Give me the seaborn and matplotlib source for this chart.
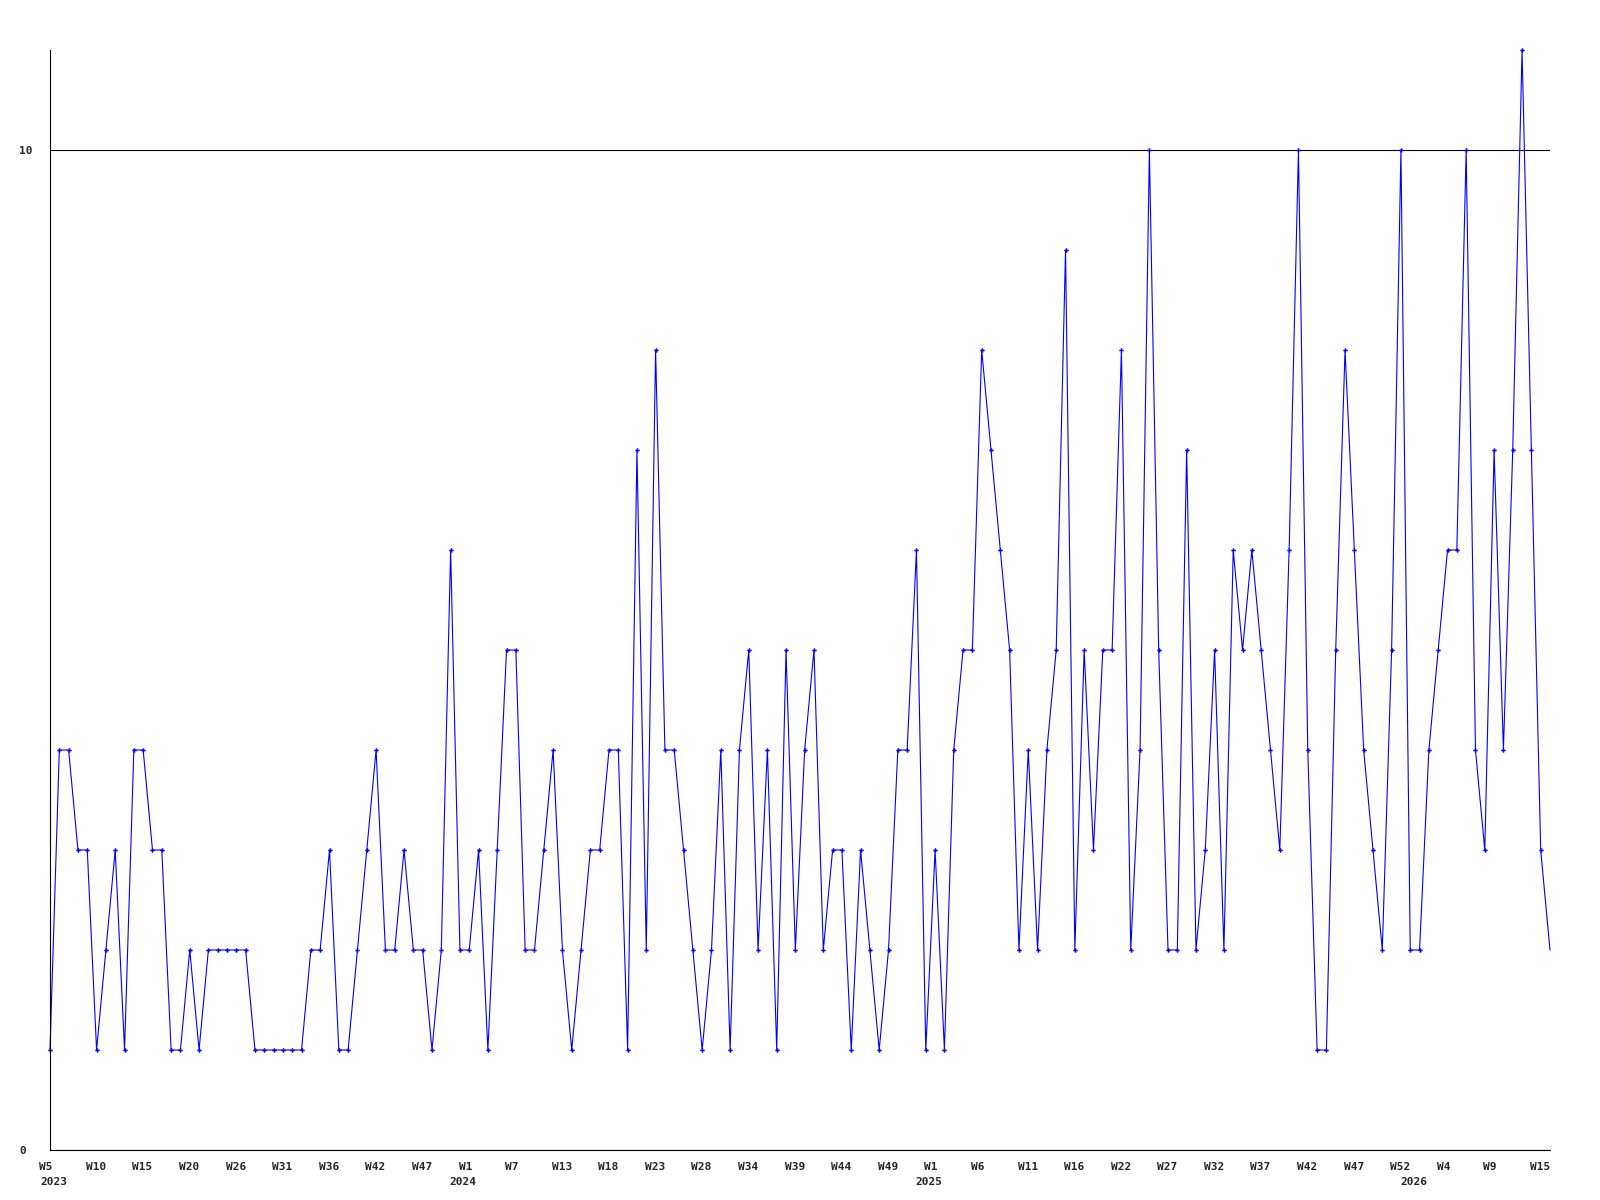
import matplotlib
matplotlib.use('Agg')
import matplotlib.pyplot as plt
import matplotlib.transforms as mtransforms
import seaborn as sns
import pandas as pd

# weekly counts (first point = 2023 W5)
counts = [
    1, 4, 4, 3, 3, 1, 2, 3, 1, 4, 4, 3, 3, 1, 1, 2, 1, 2, 2, 2,
    2, 2, 1, 1, 1, 1, 1, 1, 2, 2, 3, 1, 1, 2, 3, 4, 2, 2, 3, 2,
    2, 1, 2, 6, 2, 2, 3, 1, 3, 5, 5, 2, 2, 3, 4, 2, 1, 2, 3, 3,
    4, 4, 1, 7, 2, 8, 4, 4, 3, 2, 1, 2, 4, 1, 4, 5, 2, 4, 1, 5,
    2, 4, 5, 2, 3, 3, 1, 3, 2, 1, 2, 4, 4, 6, 1, 3, 1, 4, 5, 5,
    8, 7, 6, 5, 2, 4, 2, 4, 5, 9, 2, 5, 3, 5, 5, 8, 2, 4, 10, 5,
    2, 2, 7, 2, 3, 5, 2, 6, 5, 6, 5, 4, 3, 6, 10, 4, 1, 1, 5, 8,
    6, 4, 3, 2, 5, 10, 2, 2, 4, 5, 6, 6, 10, 4, 3, 7, 4, 7, 11, 7,
    3, 2,
]

# x labels, one every 5 points
week_labels = ['W5', 'W10', 'W15', 'W20', 'W26', 'W31', 'W36', 'W42', 'W47',
               'W1', 'W7', 'W13', 'W18', 'W23', 'W28', 'W34', 'W39', 'W44',
               'W49', 'W1', 'W6', 'W11', 'W16', 'W22', 'W27', 'W32', 'W37',
               'W42', 'W47', 'W52', 'W4', 'W9', 'W15']
year_labels = ['2023', '2024', '2025', '2026']
year_pos = [0.4, 44.3, 94.3, 146.35]

df = pd.DataFrame({'week': range(len(counts)), 'count': counts})

sns.set_style('white')
plt.rcParams['font.family'] = ['DejaVu Sans Mono']
plt.rcParams['font.weight'] = 'bold'
plt.rcParams['font.size'] = 8

fig = plt.figure(figsize=(16, 12), dpi=100)
ax = fig.add_axes([50 / 1600, 50 / 1200, 1500 / 1600, 1100 / 1200])

# last point has no marker in the original
sns.lineplot(data=df, x='week', y='count', ax=ax, color='#0000ff', lw=0.8,
             estimator=None, marker='P', markersize=3.2, markeredgewidth=0,
             markevery=list(range(len(counts) - 1)), clip_on=False)

ax.set_xlim(0, len(counts) - 1)
ax.set_ylim(0, 11)
ax.set_xlabel('')
ax.set_ylabel('')

for side in ['top', 'right']:
    ax.spines[side].set_visible(False)
for side in ['left', 'bottom']:
    ax.spines[side].set_color('black')
    ax.spines[side].set_linewidth(0.8)

ax.set_yticks([0, 10], ['0', '10'])
ax.yaxis.grid(True, color='black', lw=0.8)
ax.xaxis.grid(False)
ax.tick_params(axis='y', length=0, pad=22)
for lbl in ax.get_yticklabels():
    lbl.set_ha('left')

ax.set_xticks(list(range(0, 5 * len(week_labels), 5)), week_labels)
ax.tick_params(axis='x', length=0, pad=14.4)
shift = mtransforms.ScaledTranslation(-10.7 / 100, 0, fig.dpi_scale_trans)
for lbl in ax.get_xticklabels():
    lbl.set_ha('left')
    lbl.set_va('baseline')
    lbl.set_transform(lbl.get_transform() + shift)

year_trans = ax.get_xaxis_transform() + mtransforms.ScaledTranslation(0, -35 / 100, fig.dpi_scale_trans)
for pos, yr in zip(year_pos, year_labels):
    ax.text(pos, 0, yr, transform=year_trans, ha='center', va='baseline')

fig.savefig('out.png', dpi=100)
